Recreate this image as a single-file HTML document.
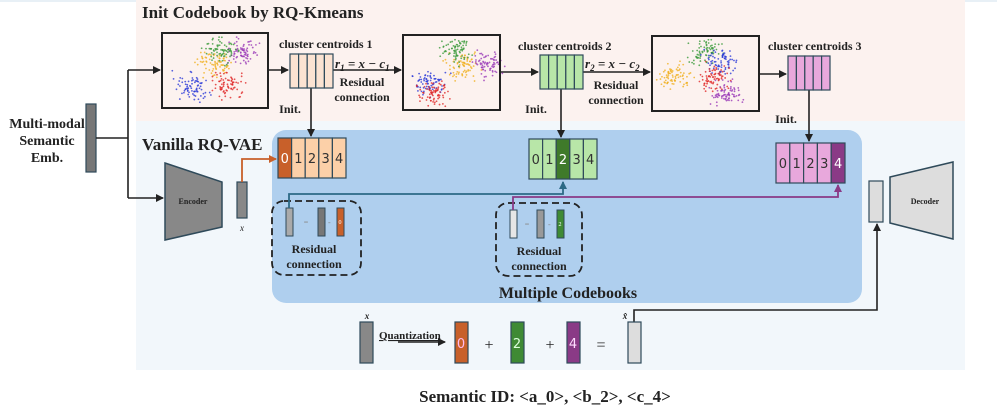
<!DOCTYPE html>
<html><head><meta charset="utf-8"><style>
body{margin:0;background:#fff}
svg{display:block;font-family:"Liberation Serif",serif}
.c{font-family:"DejaVu Sans",sans-serif;font-size:13px;fill:#333}
</style></head><body>
<svg id="s" width="997" height="409" viewBox="0 0 997 409" xmlns="http://www.w3.org/2000/svg">
<defs>
<marker id="a" markerWidth="8" markerHeight="8" refX="7" refY="4" orient="auto" markerUnits="userSpaceOnUse"><path d="M0,0L8,4L0,8z" fill="#222"/></marker>
<marker id="ao" markerWidth="8" markerHeight="8" refX="7" refY="4" orient="auto" markerUnits="userSpaceOnUse"><path d="M0,0L8,4L0,8z" fill="#c8602a"/></marker>
<marker id="ab" markerWidth="8" markerHeight="8" refX="7" refY="4" orient="auto" markerUnits="userSpaceOnUse"><path d="M0,0L8,4L0,8z" fill="#2d6a86"/></marker>
<marker id="ap" markerWidth="8" markerHeight="8" refX="7" refY="4" orient="auto" markerUnits="userSpaceOnUse"><path d="M0,0L8,4L0,8z" fill="#8a3a86"/></marker>
</defs>
<rect x="0" y="0" width="997" height="409" fill="#fff"/>
<rect x="0" y="0" width="997" height="2" fill="#e8f0f6"/>
<rect x="136" y="0" width="829" height="121" fill="#fcf2ef"/>
<rect x="136" y="121" width="829" height="249" fill="#f2f7fb"/>
<rect x="272" y="130" width="590" height="173" rx="14" fill="#afcfee"/>
<text x="142" y="18" font-size="17" font-weight="bold" fill="#222">Init Codebook by RQ-Kmeans</text>
<text x="142" y="150" font-size="17" font-weight="bold" fill="#222">Vanilla RQ-VAE</text>
<text x="47" y="128" font-size="14" font-weight="bold" text-anchor="middle" fill="#222">Multi-modal</text>
<text x="47" y="145" font-size="14" font-weight="bold" text-anchor="middle" fill="#222">Semantic</text>
<text x="47" y="162" font-size="14" font-weight="bold" text-anchor="middle" fill="#222">Emb.</text>
<rect x="86" y="104" width="10" height="68" fill="#777" stroke="#2f4a5a" stroke-width="1.2"/>
<g stroke="#222" stroke-width="1.6" fill="none">
<path d="M96,138H128"/><path d="M128,70V198"/>
<path d="M128,70H160" marker-end="url(#a)"/><path d="M128,198H163" marker-end="url(#a)"/>
<path d="M268,70H288" marker-end="url(#a)"/><path d="M333,70H401" marker-end="url(#a)"/>
<path d="M500,72H538" marker-end="url(#a)"/><path d="M583,72H650" marker-end="url(#a)"/>
<path d="M759,74H786" marker-end="url(#a)"/>
<path d="M311,88V136" marker-end="url(#a)"/><path d="M561,89V137" marker-end="url(#a)"/><path d="M809,90V141" marker-end="url(#a)"/>
<path d="M634,322V310H877V224" marker-end="url(#a)"/>
<path d="M398,342H445" marker-end="url(#a)"/>
</g>
<g id="sc"></g>
<rect x="162" y="33" width="106" height="75" fill="none" stroke="#222" stroke-width="2"/>
<rect x="403" y="35" width="97" height="75" fill="none" stroke="#222" stroke-width="2"/>
<rect x="652" y="36" width="107" height="75" fill="none" stroke="#222" stroke-width="2"/>
<text x="279" y="48" font-size="12" font-weight="bold" fill="#222">cluster centroids 1</text>
<text x="518" y="50" font-size="12" font-weight="bold" fill="#222">cluster centroids 2</text>
<text x="768" y="50" font-size="12" font-weight="bold" fill="#222">cluster centroids 3</text>
<text x="335" y="68" font-size="13" font-style="italic" font-weight="bold" fill="#222">r<tspan font-size="9" dy="3">1</tspan><tspan dy="-3"> = x − c</tspan><tspan font-size="9" dy="3">1</tspan></text>
<text x="585" y="68" font-size="13" font-style="italic" font-weight="bold" fill="#222">r<tspan font-size="9" dy="3">2</tspan><tspan dy="-3"> = x − c</tspan><tspan font-size="9" dy="3">2</tspan></text>
<g font-size="12" font-weight="bold" fill="#222" text-anchor="middle">
<text x="362" y="86">Residual</text><text x="362" y="101">connection</text>
<text x="616" y="89">Residual</text><text x="616" y="104">connection</text>
<text x="290" y="113">Init.</text><text x="536" y="113">Init.</text><text x="786" y="123">Init.</text>
</g>
<g id="cb"></g>
<polygon points="165,163 222,182 222,227 165,240" fill="#888" stroke="#2f4a5a" stroke-width="1.5"/>
<text x="193" y="204" font-size="8" font-weight="bold" text-anchor="middle" fill="#222">Encoder</text>
<rect x="237" y="182" width="10" height="36" fill="#888" stroke="#2f4a5a" stroke-width="1.2"/>
<text x="242" y="231" font-size="9" font-style="italic" text-anchor="middle" fill="#222">x</text>
<path d="M242,182V159H276" stroke="#c8602a" stroke-width="1.8" fill="none" marker-end="url(#ao)"/>
<rect x="869" y="181" width="14" height="41" fill="#ddd" stroke="#2f4a5a" stroke-width="1.2"/>
<polygon points="890,177 953,162 953,239 890,223" fill="#ddd" stroke="#2f4a5a" stroke-width="1.5"/>
<text x="925" y="204" font-size="8" font-weight="bold" text-anchor="middle" fill="#222">Decoder</text>
<rect x="272" y="201" width="89" height="74" rx="12" fill="none" stroke="#222" stroke-width="1.8" stroke-dasharray="7,4"/>
<rect x="496" y="203" width="86" height="73" rx="12" fill="none" stroke="#222" stroke-width="1.8" stroke-dasharray="7,4"/>
<rect x="286" y="208" width="7" height="28" fill="#aaa" stroke="#2f4a5a"/>
<text x="306" y="225" font-size="8" fill="#888" text-anchor="middle">=</text>
<rect x="318" y="208" width="7" height="28" fill="#777" stroke="#2f4a5a"/>
<text x="328" y="225" font-size="8" fill="#888">-</text>
<rect x="337" y="208" width="7" height="28" fill="#c8602a" stroke="#2f4a5a"/>
<text x="340" y="224" font-size="6" fill="#fff" text-anchor="middle">0</text>
<rect x="510" y="210" width="7" height="28" fill="#e6e6e6" stroke="#2f4a5a"/>
<text x="527" y="227" font-size="8" fill="#888" text-anchor="middle">=</text>
<rect x="537" y="210" width="7" height="28" fill="#999" stroke="#2f4a5a"/>
<text x="548" y="227" font-size="8" fill="#888">-</text>
<rect x="557" y="210" width="7" height="28" fill="#3f8a34" stroke="#2f4a5a"/>
<text x="560" y="226" font-size="6" fill="#fff" text-anchor="middle">2</text>
<g font-size="12" font-weight="bold" fill="#222" text-anchor="middle">
<text x="314" y="253">Residual</text><text x="314" y="268">connection</text>
<text x="539" y="255">Residual</text><text x="539" y="270">connection</text>
</g>
<path d="M289,208V194H563V182" stroke="#2d6a86" stroke-width="1.8" fill="none" marker-end="url(#ab)"/>
<path d="M513,210V197H838V185" stroke="#8a3a86" stroke-width="1.8" fill="none" marker-end="url(#ap)"/>
<text x="568" y="298" font-size="16" font-weight="bold" text-anchor="middle" fill="#222">Multiple Codebooks</text>
<text x="367" y="319" font-size="9" font-style="italic" font-weight="bold" text-anchor="middle" fill="#222">x</text>
<rect x="360" y="322" width="13" height="41" fill="#888" stroke="#2f4a5a" stroke-width="1.2"/>
<text x="379" y="339" font-size="11" font-weight="bold" fill="#222" text-decoration="underline">Quantization</text>
<rect x="455" y="322" width="13" height="41" fill="#c8602a" stroke="#2f4a5a" stroke-width="1.2"/>
<text x="461" y="348" class="c" text-anchor="middle" style="fill:#fbe">0</text>
<text x="489" y="350" font-size="16" text-anchor="middle" fill="#222">+</text>
<rect x="511" y="322" width="13" height="41" fill="#3f8a34" stroke="#2f4a5a" stroke-width="1.2"/>
<text x="517" y="348" class="c" text-anchor="middle" style="fill:#dfd">2</text>
<text x="550" y="350" font-size="16" text-anchor="middle" fill="#222">+</text>
<rect x="567" y="322" width="13" height="41" fill="#8a3a86" stroke="#2f4a5a" stroke-width="1.2"/>
<text x="573" y="348" class="c" text-anchor="middle" style="fill:#fdf">4</text>
<text x="601" y="350" font-size="16" text-anchor="middle" fill="#222">=</text>
<text x="625" y="319" font-size="9" font-style="italic" font-weight="bold" text-anchor="middle" fill="#222">x̂</text>
<rect x="628" y="322" width="13" height="41" fill="#ddd" stroke="#2f4a5a" stroke-width="1.2"/>
<text x="545" y="402" font-size="17" font-weight="bold" text-anchor="middle" fill="#222">Semantic ID: &lt;a_0&gt;, &lt;b_2&gt;, &lt;c_4&gt;</text>
</svg>
<script>
var NS="http://www.w3.org/2000/svg";
function el(p,t,a){var e=document.createElementNS(NS,t);for(var k in a)e.setAttribute(k,a[k]);p.appendChild(e);return e;}
var seed=7;function r(){seed=(seed*16807)%2147483647;return seed/2147483647;}
function g(){return (r()+r()+r()-1.5)/1.5;}
var sc=document.getElementById('sc');
var plots=[
[162,33,[[0.28,0.72,'#2a3ad8'],[0.5,0.4,'#f0b020'],[0.75,0.25,'#9a3ab8'],[0.55,0.22,'#3a9a3a'],[0.62,0.7,'#e02828']]],
[403,35,[[0.25,0.62,'#2a3ad8'],[0.3,0.78,'#e02828'],[0.55,0.42,'#f0b020'],[0.5,0.2,'#3a9a3a'],[0.8,0.38,'#9a3ab8']]],
[652,36,[[0.2,0.55,'#f0b020'],[0.5,0.2,'#3a9a3a'],[0.65,0.35,'#2a3ad8'],[0.6,0.55,'#e02828'],[0.7,0.78,'#9a3ab8']]]];
plots.forEach(function(p){p[2].forEach(function(c){for(var i=0;i<75;i++){var x=p[0]+106*Math.min(0.96,Math.max(0.04,c[0]+0.22*g())),y=p[1]+75*Math.min(0.95,Math.max(0.05,c[1]+0.25*g()));el(sc,'circle',{cx:x,cy:y,r:0.9,fill:c[2],opacity:0.8});}});});
var cb=document.getElementById('cb');
function small(x,y,w,h,f){for(var i=0;i<5;i++)el(cb,'rect',{x:x+i*w/5,y:y,width:w/5,height:h,fill:f,stroke:'#2f4a5a','stroke-width':1.2});}
small(290,54,43,34,'#fbe3d2');small(540,55,43,34,'#b8e6a8');small(788,56,42,34,'#e8a8dc');
function big(x,y,w,h,f,d,di){for(var i=0;i<5;i++){el(cb,'rect',{x:x+i*w/5,y:y,width:w/5,height:h,fill:i==di?d:f,stroke:'#2f4a5a','stroke-width':1.2});var t=el(cb,'text',{x:x+i*w/5+w/10,y:y+h/2+5,'text-anchor':'middle','class':'c'});t.textContent=i;if(i==di)t.setAttribute('style','fill:#fff');}}
big(278,138,68,40,'#fcd0a8','#c8602a',0);big(529,139,68,40,'#b8e6a8','#3f7a2a',2);big(776,143,69,40,'#e8a8dc','#8a3a86',4);
</script>
</body></html>
